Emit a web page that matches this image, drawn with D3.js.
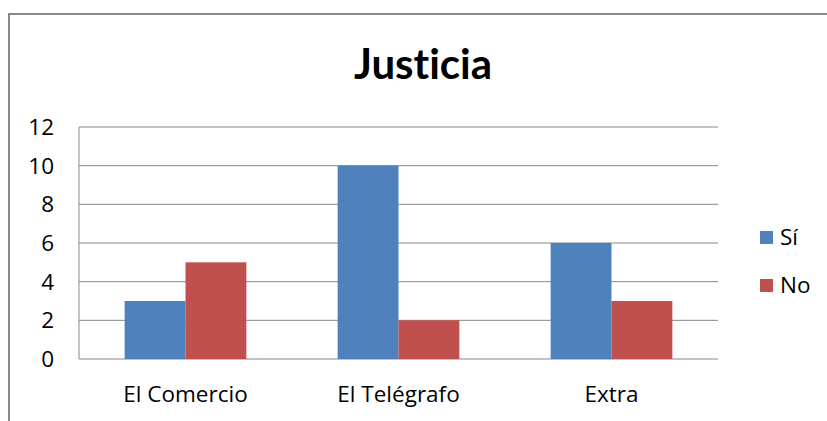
<!DOCTYPE html>
<html>
<head>
<meta charset="utf-8">
<script src="https://cdn.jsdelivr.net/npm/d3@7"></script>
<style>
  body { margin: 0; background: #fff; }
  svg text { font-family: "Open Sans", sans-serif; fill: #000; }
</style>
</head>
<body>
<svg id="svg1" width="827" height="421"></svg>
<script>
var categorias = ["El Comercio", "El Telégrafo", "Extra"];
var series = ["Sí", "No"];
var valoresSi = [3, 10, 6];
var valoresNo = [5, 2, 3];
var ticks = [0, 2, 4, 6, 8, 10, 12];
var colores = ["#4F81BD", "#C0504D"];

var svg = d3.select("#svg1");
var marge = {haut: 127, droite: 110, bas: 62, gauche: 79};
var largeur = 827, hauteur = 421;

// cadre gris
svg.append("path")
    .attr("d", "M9," + (hauteur + 5) + "V14H" + (largeur + 5))
    .attr("fill", "none")
    .attr("stroke", "#888")
    .attr("stroke-width", 2);

svg.append("text")
    .attr("x", 423).attr("y", 79)
    .attr("text-anchor", "middle")
    .style("font-family", "Lato, sans-serif")
    .style("font-weight", "bold")
    .style("font-size", "42px")
    .style("font-variant-ligatures", "none")
    .style("font-feature-settings", "'liga' 0")
    .text("Justicia");

var x = d3.scaleBand()
    .domain(categorias)
    .range([marge.gauche, 718]);

var y = d3.scaleLinear()
    .domain([0, 12])
    .range([359, 127]);

// lignes de grille
svg.append("g").selectAll("line")
    .data(ticks)
    .enter().append("line")
    .attr("x1", marge.gauche).attr("x2", 718)
    .attr("y1", d => y(d)).attr("y2", d => y(d))
    .style("stroke", "#878787").style("stroke-width", 1);

svg.append("line")
    .attr("x1", marge.gauche).attr("x2", marge.gauche)
    .attr("y1", y(0)).attr("y2", y(12))
    .style("stroke", "#878787");

svg.append("g").selectAll("text")
    .data(ticks)
    .enter().append("text")
    .attr("x", 54).attr("y", d => y(d))
    .attr("dy", "0.36em")
    .attr("text-anchor", "end")
    .style("font-size", "22.5px")
    .text(d => d);

var donnees = [valoresSi, valoresNo];
var barre = x.bandwidth() / 3.5;

donnees.forEach(function(vals, s) {
    svg.append("g").selectAll("rect")
        .data(vals)
        .enter().append("rect")
        .attr("x", (d, i) => x(categorias[i]) + x.bandwidth() / 2 - barre + s * barre)
        .attr("y", d => y(d))
        .attr("width", barre)
        .attr("height", d => y(0) - y(d))
        .style("fill", colores[s]);
});

svg.append("g").selectAll("text")
    .data(categorias)
    .enter().append("text")
    .attr("x", d => x(d) + x.bandwidth() / 2)
    .attr("y", 402)
    .attr("text-anchor", "middle")
    .style("font-size", "22.5px")
    .text(d => d);

// légende
var legende = svg.append("g").selectAll("g")
    .data(series)
    .enter().append("g")
    .attr("transform", (d, i) => "translate(760," + (231 + i * 48) + ")");

legende.append("rect")
    .attr("width", 13).attr("height", 13)
    .style("fill", (d, i) => colores[i]);

legende.append("text")
    .attr("x", 20).attr("y", 14)
    .style("font-size", "22.5px")
    .text(d => d);
</script>
</body>
</html>
